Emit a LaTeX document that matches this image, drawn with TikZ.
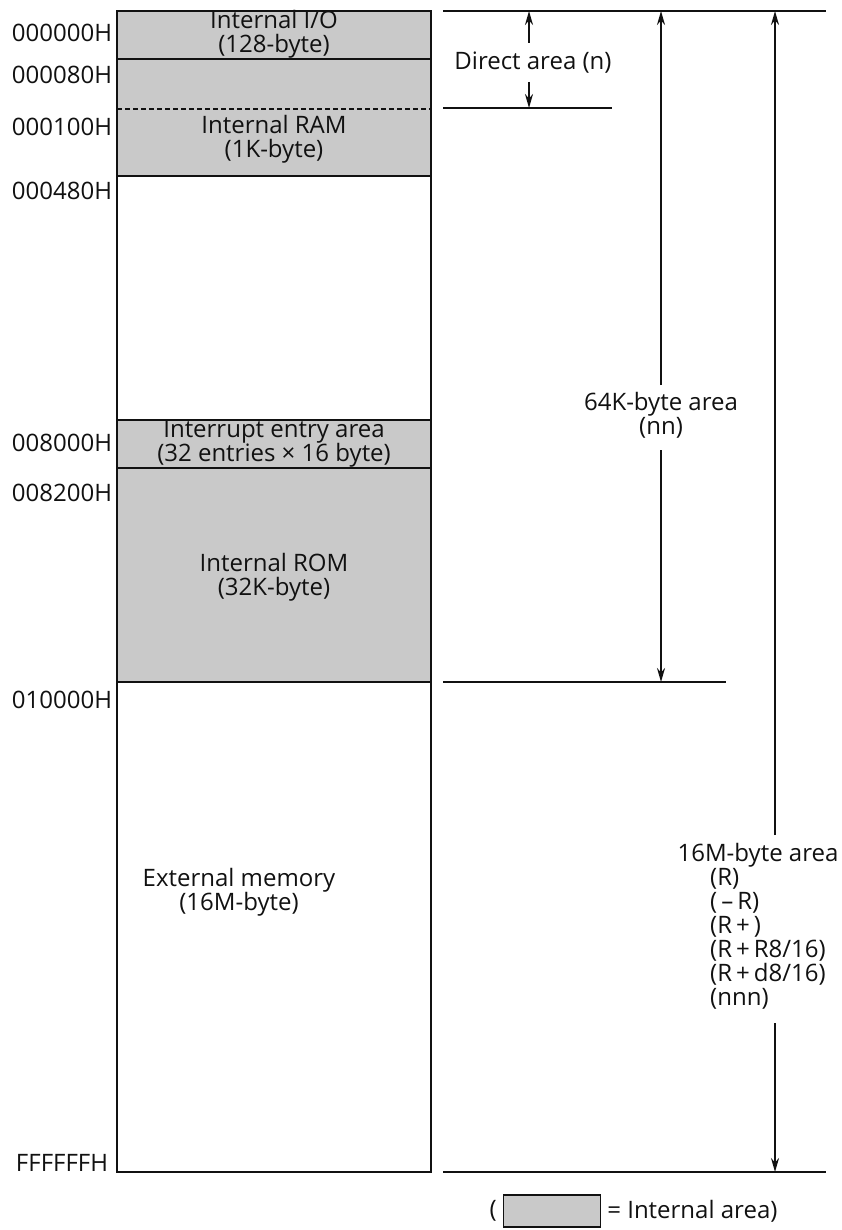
\documentclass[tikz,border=0pt]{standalone}
\usepackage{fontspec}
\setmainfont{Open Sans}
\usetikzlibrary{arrows.meta,positioning}
\definecolor{mmink}{HTML}{111111}
\definecolor{mmshade}{HTML}{C9C9C9}
\tikzset{
  mm text/.style={font=\fontsize{24}{24}\selectfont, text=mmink},
  mm addr/.style={mm text, inner sep=0pt},
  mm area/.style={mm text, align=center, inner sep=0pt},
  mm frame/.style={draw=mmink, line width=1.6pt},
  mm div/.style={draw=mmink, line width=1.1pt},
  mm shade/.style={fill=mmshade},
  mm rule/.style={draw=mmink, line width=2pt},
  mm arrow/.style={-{Stealth[length=14pt,width=8pt]}, draw=mmink, line width=1.8pt}
}
\begin{document}
\begin{tikzpicture}[x=1pt, y=-1pt, mm text]
  \useasboundingbox (0,0) rectangle (842,1230);
  % memory map
  \fill[mm shade] (117,11) rectangle (431,176);
  \fill[mm shade] (117,420) rectangle (431,682);
  \draw[mm div] (117,59) -- (431,59);
  \draw[mm div, dash pattern=on 5pt off 3pt] (117,109) -- (431,109);
  \draw[mm div] (117,176) -- (431,176) (117,420) -- (431,420)
    (117,468) -- (431,468) (117,682) -- (431,682);
  \draw[mm frame] (117,11) rectangle (431,1172);
  \node[mm area] (io) at (274,34) {Internal I/O\\(128-byte)};
  \node[mm area] (ram) at (274,139) {Internal RAM\\(1K-byte)};
  \node[mm area] (intr) at (274,444) {Interrupt entry area\\(32 entries × 16 byte)};
  \node[mm area] (rom) at (274,577) {Internal ROM\\(32K-byte)};
  \node[mm area] (ext) at (239,892) {External memory\\(16M-byte)};
  % addresses
  \foreach \y/\t [count=\i] in {33/000000H, 75/000080H, 127/000100H, 191/000480H,
      443/008000H, 493/008200H, 700/010000H, 1163/FFFFFFH}
    \node[mm addr] (addr\i) at (62,\y) {\t};
  % ranges
  \coordinate (top l) at (443,11);   \coordinate (top r) at (826,11);
  \coordinate (dir l) at (443,108);  \coordinate (dir r) at (612,108);
  \coordinate (k64 l) at (443,682);  \coordinate (k64 r) at (726,682);
  \coordinate (bot l) at (443,1172); \coordinate (bot r) at (826,1172);
  \draw[mm rule] (top l) -- (top r) (dir l) -- (dir r) (k64 l) -- (k64 r) (bot l) -- (bot r);
  \node[mm area] (direct) at (533,63) {Direct area (n)};
  \draw[mm arrow] (529,43) -- (529,11);
  \draw[mm arrow] (529,82) -- (529,108);
  \node[mm area] (k64) at (661,415) {64K-byte area\\(nn)};
  \draw[mm arrow] (661,385) -- (661,11);
  \draw[mm arrow] (661,450) -- (661,682);
  \node[mm area] (m16) at (758,855) {16M-byte area};
  \node[mm area, align=left, anchor=north west] (m16 list) at (710,868)
    {(R)\\(\,–\,R)\\(R\,+\,)\\(R\,+\,R8/16)\\(R\,+\,d8/16)\\(nnn)};
  \draw[mm arrow] (775,835) -- (775,11);
  \draw[mm arrow] (775,1023) -- (775,1172);
  % legend
  \node[draw=mmink, line width=1.3pt, fill=mmshade, minimum width=97pt, minimum height=32pt,
    inner sep=0pt] (key) at (552,1211) {};
  \node[mm area, left=6pt of key] (key open) {(};
  \node[mm area, right=6pt of key] (key text) {= Internal area)};
\end{tikzpicture}
\end{document}
